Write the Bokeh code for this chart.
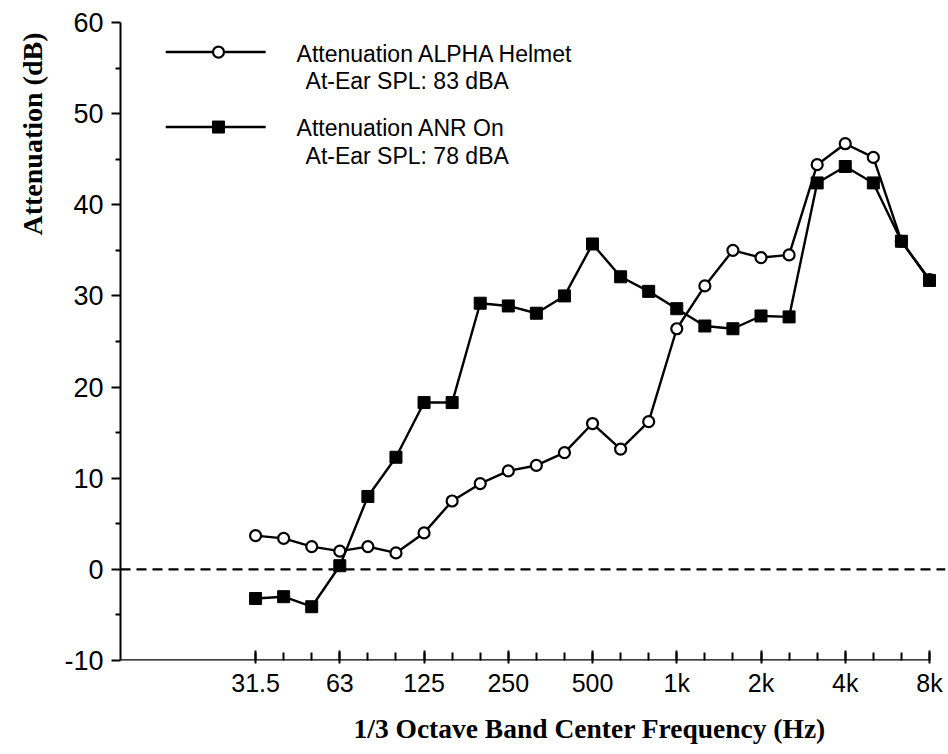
from bokeh.plotting import figure
from bokeh.models import Range1d, FixedTicker, Span, Label, Arrow, Title
from bokeh.embed import file_html
from bokeh.resources import INLINE

# 1/3-octave band centres, 31.5 Hz .. 8 kHz (25 bands, plotted by band index)
bands = ["31.5", "40", "50", "63", "80", "100", "125", "160", "200", "250",
         "315", "400", "500", "630", "800", "1k", "1.25k", "1.6k", "2k",
         "2.5k", "3.15k", "4k", "5k", "6.3k", "8k"]
tick_labels = ["31.5", "63", "125", "250", "500", "1k", "2k", "4k", "8k"]

# Attenuation (dB) per band
alpha_helmet = [3.7, 3.4, 2.5, 2.0, 2.5, 1.8, 4.0, 7.5, 9.4, 10.8, 11.4, 12.8,
                16.0, 13.2, 16.2, 26.4, 31.1, 35.0, 34.2, 34.5, 44.4, 46.7,
                45.2, 36.0, 31.8]
anr_on = [-3.2, -3.0, -4.1, 0.4, 8.0, 12.3, 18.3, 18.3, 29.2, 28.9, 28.1, 30.0,
          35.7, 32.1, 30.5, 28.6, 26.7, 26.4, 27.8, 27.7, 42.4, 44.2, 42.4,
          36.0, 31.7]

x = list(range(len(bands)))

SANS = "Liberation Sans"
SERIF = "Liberation Serif"

p = figure(width=948, height=754, output_backend="svg", toolbar_location=None,
           x_range=Range1d(-4.81, 24.57), y_range=Range1d(-10, 60),
           min_border_left=120, min_border_right=3, min_border_top=22,
           min_border_bottom=94)
p.outline_line_color = None
p.grid.visible = False
p.background_fill_color = "white"
p.border_fill_color = "white"

# y axis
ya = p.yaxis[0]
ya.ticker = FixedTicker(ticks=list(range(-10, 61, 10)),
                        minor_ticks=list(range(-5, 60, 10)))
ya.major_label_overrides = {-10: "-10"}
ya.axis_line_width = 2
ya.major_tick_line_width = 2
ya.minor_tick_line_width = 2
ya.major_tick_out = 9
ya.major_tick_in = 0
ya.minor_tick_out = 5
ya.minor_tick_in = 0
ya.major_label_text_font = SANS
ya.major_label_text_font_size = "27px"
ya.major_label_text_color = "black"
ya.major_label_standoff = 8

# x axis: a tick on every band, labels on whole octaves
xa = p.xaxis[0]
major_idx = [bands.index(t) for t in tick_labels]
xa.ticker = FixedTicker(ticks=major_idx, minor_ticks=x)
xa.major_label_overrides = {i: t for i, t in zip(major_idx, tick_labels)}
xa.axis_line_color = None
xa.major_tick_line_width = 2
xa.minor_tick_line_width = 2
xa.major_tick_in = 10
xa.major_tick_out = 3
xa.minor_tick_in = 8
xa.minor_tick_out = 0
xa.major_label_text_font = SANS
xa.major_label_text_font_size = "25px"
xa.major_label_text_color = "black"
xa.major_label_standoff = 5

# axis titles
p.add_layout(Title(text="Attenuation (dB)", align="right", offset=10,
                   text_font=SERIF, text_font_style="bold",
                   text_font_size="28px", text_color="black", standoff=28),
             "left")
p.add_layout(Title(text="1/3 Octave Band Center Frequency (Hz)", align="left",
                   offset=233, text_font=SERIF, text_font_style="bold",
                   text_font_size="27.5px", text_color="black", standoff=22),
             "below")

# x axis line running up to the 8 kHz band
p.add_layout(Arrow(end=None, x_start=-4.81, y_start=-10, x_end=x[-1], y_end=-10,
                   line_width=2.5, line_color="black"))

# 0 dB reference
p.add_layout(Span(location=0, dimension="width", line_color="black",
                  line_width=2.2, line_dash="10 6"))

# series
p.line(x, alpha_helmet, line_color="black", line_width=2.4)
p.scatter(x, alpha_helmet, marker="circle", size=11, fill_color="white",
          line_color="black", line_width=2.2)
p.line(x, anr_on, line_color="black", line_width=2.4)
p.scatter(x, anr_on, marker="square", size=12, fill_color="black",
          line_color="black")

# legend
lx0, lx1, lmk = -3.2, 0.36, -1.32
ly1, ly2 = 56.76, 48.53
p.line([lx0, lx1], [ly1, ly1], line_color="black", line_width=2.4)
p.scatter([lmk], [ly1], marker="circle", size=11, fill_color="white",
          line_color="black", line_width=2.2)
p.line([lx0, lx1], [ly2, ly2], line_color="black", line_width=2.4)
p.scatter([lmk], [ly2], marker="square", size=12, fill_color="black",
          line_color="black")

legend_text = [
    ("Attenuation ALPHA Helmet", 1.46, 56.5),
    ("At-Ear SPL: 83 dBA", 1.78, 53.6),
    ("Attenuation ANR On", 1.46, 48.4),
    ("At-Ear SPL: 78 dBA", 1.78, 45.35),
]
for txt, tx, ty in legend_text:
    p.add_layout(Label(x=tx, y=ty, text=txt, text_font=SANS,
                       text_font_size="23px", text_color="black",
                       text_baseline="middle", text_align="left"))

open("out.html", "w").write(file_html(p, INLINE))
